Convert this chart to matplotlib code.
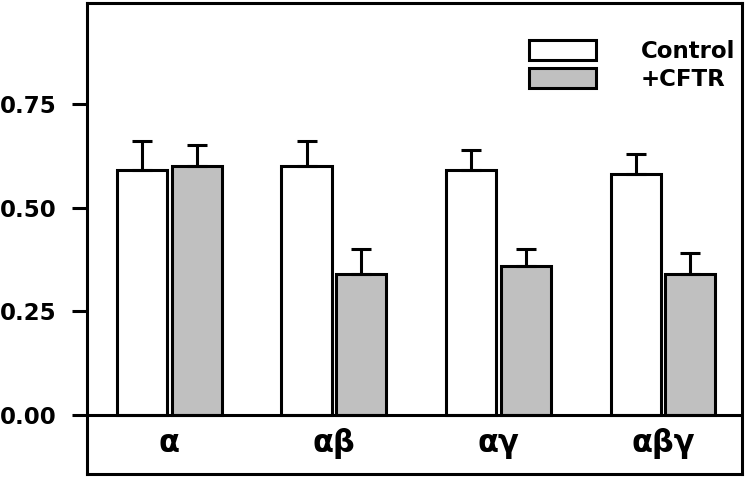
import numpy as np
import matplotlib
matplotlib.use('Agg')
import matplotlib.pyplot as plt

# ── data ─────────────────────────────────────────────────────────────────────
categories = ['α', 'αβ', 'αγ', 'αβγ']
control = [0.59, 0.60, 0.59, 0.58]
control_err = [0.07, 0.06, 0.05, 0.05]
cftr = [0.60, 0.34, 0.36, 0.34]
cftr_err = [0.05, 0.06, 0.04, 0.05]
series_labels = ['Control', '+CFTR']
yticks = [0.00, 0.25, 0.50, 0.75]

plt.rcParams['font.family'] = ['DejaVu Sans']
plt.rcParams['font.weight'] = 'bold'

FS = 16.5
LW = 2.2
GREY = '#c0c0c0'

fig = plt.figure(figsize=(7.5, 4.82), dpi=100)
ax = fig.add_axes([0.116, 0.0166, 0.8733, 0.977])

x = np.arange(len(categories))
w = 0.305
off = 0.166

err_kw = dict(elinewidth=LW, capthick=LW, capsize=7.5, ecolor='black')
ax.bar(x - off, control, w, color='white', edgecolor='black', linewidth=LW,
       yerr=[np.zeros(len(control)), control_err], error_kw=err_kw,
       label=series_labels[0], zorder=3)
ax.bar(x + off, cftr, w, color=GREY, edgecolor='black', linewidth=LW,
       yerr=[np.zeros(len(cftr)), cftr_err], error_kw=err_kw,
       label=series_labels[1], zorder=3)

ax.axhline(0, color='black', linewidth=LW, zorder=4)

# category labels sit inside the frame, below the zero line
for xi, cat in zip(x, categories):
    ax.text(xi, -0.089, cat, ha='center', va='baseline',
            fontsize=22, fontweight='bold')

ax.set_xlim(-0.5, 3.48)
ax.set_ylim(-0.142, 0.993)
ax.set_xticks([])
ax.set_yticks(yticks)
ax.set_yticklabels([f'{t:.2f}' for t in yticks], fontsize=FS, fontweight='bold')
ax.tick_params(axis='y', direction='out', length=11, width=LW, pad=11)

for sp in ax.spines.values():
    sp.set_linewidth(LW)

ax.legend(loc='upper right', bbox_to_anchor=(0.989, 0.922), frameon=False,
          prop={'size': FS, 'weight': 'bold'}, borderpad=0, borderaxespad=0,
          handlelength=2.92, handleheight=0.95, handletextpad=1.95,
          labelspacing=0.22)

plt.savefig('out.png', dpi=100)
plt.close()
